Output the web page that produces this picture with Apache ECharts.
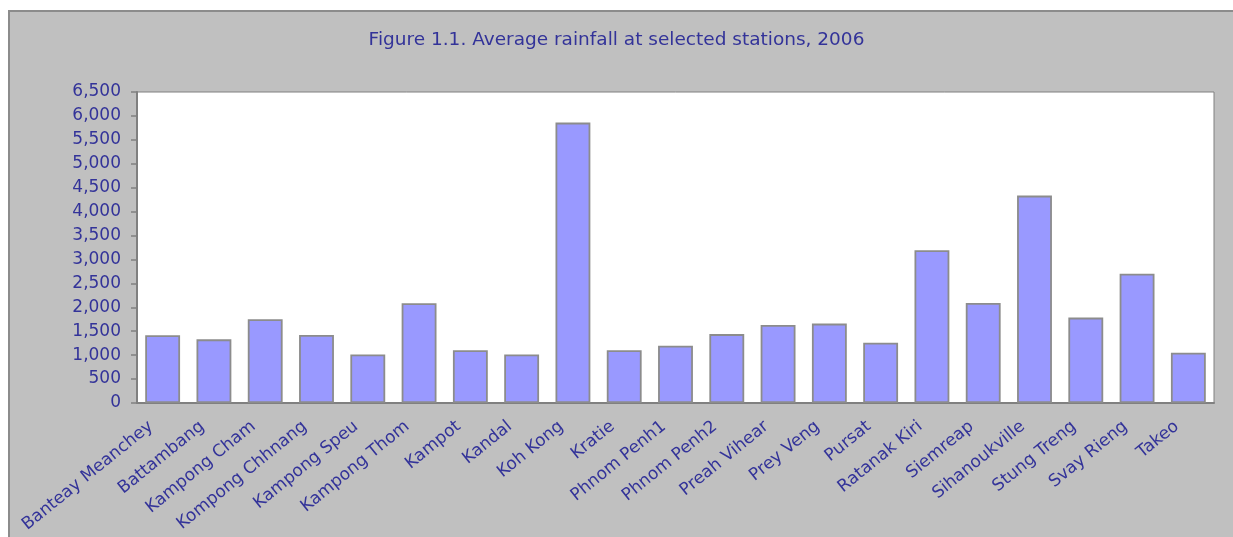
<!DOCTYPE html>
<html>
<head>
<meta charset="utf-8">
<script src="https://cdn.jsdelivr.net/npm/echarts@6/dist/echarts.min.js"></script>
<style>
html, body {
    margin: 0;
    padding: 0;
    background: #fff;
    overflow: hidden;
}
.frame {
    position: absolute;
    left: 8px;
    top: 10px;
    width: 1240px;
    height: 540px;
    background: #c0c0c0;
    border-left: 2px solid #8c8c8c;
    border-top: 2px solid #8c8c8c;
}
#chart {
    position: absolute;
    left: 0;
    top: 0;
    width: 1233px;
    height: 537px;
}
</style>
</head>
<body>
<div class="frame"></div>
<div id="chart"></div>
<script>
var stations = ['Banteay Meanchey', 'Battambang', 'Kampong Cham', 'Kompong Chhnang', 'Kampong Speu',
    'Kampong Thom', 'Kampot', 'Kandal', 'Koh Kong', 'Kratie', 'Phnom Penh1', 'Phnom Penh2',
    'Preah Vihear', 'Prey Veng', 'Pursat', 'Ratanak Kiri', 'Siemreap', 'Sihanoukville',
    'Stung Treng', 'Svay Rieng', 'Takeo']
var rainfall = [1415, 1330, 1750, 1420, 1015, 2085, 1105, 1015, 5860, 1105, 1195, 1440,
    1630, 1660, 1260, 3195, 2090, 4335, 1785, 2700, 1050]
var yTicks = {min: 0, max: 6500, step: 500}

var textColor = '#333399'
var lineColor = '#808080'

function thousands(v) {
    return String(v).replace(/\B(?=(\d{3})+(?!\d))/g, ',')
}

var chart = echarts.init(document.getElementById('chart'))
chart.setOption({
    animation: false,
    backgroundColor: 'transparent',
    textStyle: {fontFamily: 'DejaVu Sans'},
    title: {
        text: 'Figure 1.1. Average rainfall at selected stations, 2006',
        left: 'center',
        top: 26,
        textStyle: {color: textColor, fontSize: 18.5, fontWeight: 'normal'}
    },
    grid: {
        left: 137,
        top: 92,
        right: 19,
        bottom: 134,
        outerBoundsMode: 'none',
        containLabel: false,
        show: true,
        backgroundColor: '#fff',
        borderColor: lineColor,
        borderWidth: 1
    },
    xAxis: {
        type: 'category',
        data: stations,
        axisLine: {lineStyle: {color: lineColor, width: 2}},
        axisTick: {length: 5, lineStyle: {color: lineColor, width: 1.5}},
        axisLabel: {
            interval: 0,
            rotate: 39,
            margin: 12,
            padding: [0, 15, 0, 0],
            color: textColor,
            fontSize: 17
        }
    },
    yAxis: {
        type: 'value',
        min: yTicks.min,
        max: yTicks.max,
        interval: yTicks.step,
        splitLine: {show: false},
        axisLine: {show: true, lineStyle: {color: lineColor, width: 2}},
        axisTick: {show: true, length: 6, lineStyle: {color: lineColor, width: 1.5}},
        axisLabel: {
            margin: 16,
            color: textColor,
            fontSize: 17,
            formatter: thousands
        }
    },
    series: [{
        type: 'bar',
        data: rainfall,
        barCategoryGap: '32%',
        itemStyle: {color: '#9999ff', borderColor: '#8c8c8c', borderWidth: 1.8}
    }]
})
</script>
</body>
</html>
